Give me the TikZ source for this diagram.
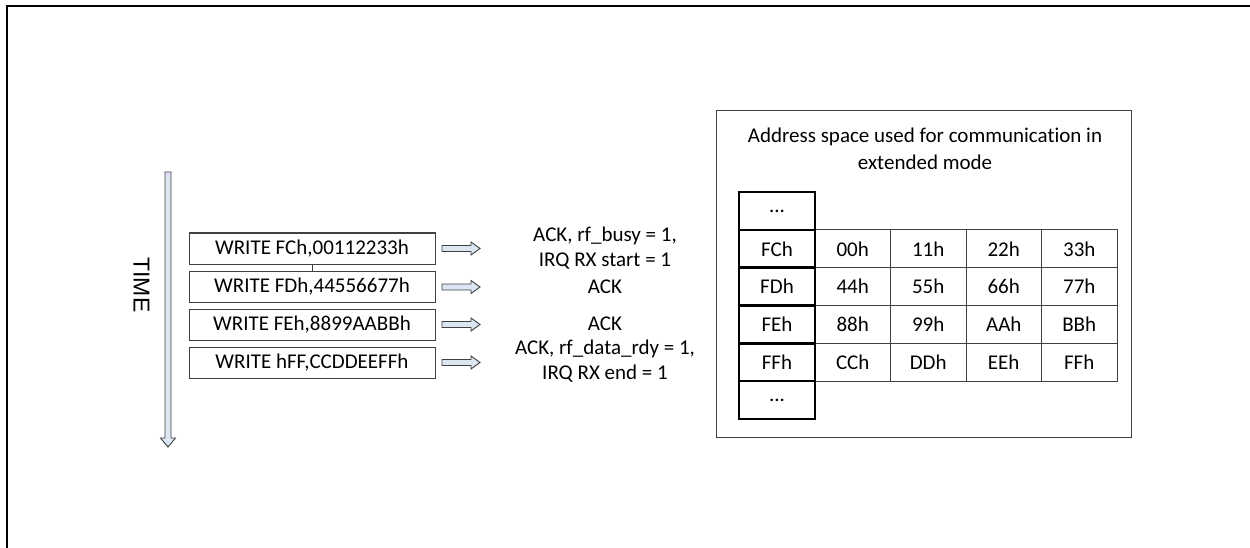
\documentclass[tikz,border=0pt]{standalone}
\usepackage{fontspec}
\setmainfont[Ligatures=NoCommon]{Carlito}
\newfontfamily\arialfont{Liberation Sans}
\usetikzlibrary{calc}
\definecolor{arrowfill}{HTML}{DCE6F2}
\definecolor{linegray}{HTML}{404040}
\begin{document}
\begin{tikzpicture}[x=1pt,y=-1pt,
  txt/.style={font=\fontsize{21}{25}\selectfont, inner sep=0pt},
  writebox/.style={draw=linegray, line width=1pt, minimum width=246pt, minimum height=31pt, inner sep=0pt, outer sep=0pt, font=\fontsize{21}{25}\selectfont},
  barrow/.style={draw=linegray, line width=0.9pt, fill=arrowfill, line join=miter},
  datacell/.style={draw=linegray, line width=1pt, minimum width=75.5pt, minimum height=37.8pt, inner sep=0pt, outer sep=0pt, font=\fontsize{21}{25}\selectfont},
  addrcell/.style={draw=black, line width=2.6pt, minimum width=76pt, minimum height=37.8pt, inner sep=0pt, outer sep=0pt, font=\fontsize{21}{25}\selectfont},
  frame/.style={draw=black, line width=2.4pt}
]
\useasboundingbox (0,0) rectangle (1250,548);
\fill[white] (0,0) rectangle (1250,548);
\draw[frame] (7,549) -- (7,6) -- (1251,6);

% time arrow
\coordinate (ttop) at (168,172);
\draw[barrow] (ttop) ++(-3,0) -- ++(0,266) -- ++(-4.5,0) -- ++(7.5,9) -- ++(7.5,-9) -- ++(-4.5,0) -- ++(0,-266) -- cycle;
\node[font=\arialfont\fontsize{23}{26}\selectfont, rotate=-90, inner sep=0pt] (time) at (141.5,285) {TIME};

% write boxes
\node[writebox] (w1) at (312,248.5) {WRITE FCh,00112233h};
\node[writebox] (w2) at (312,287) {WRITE FDh,44556677h};
\node[writebox] (w3) at (312,324.5) {WRITE FEh,8899AABBh};
\node[writebox] (w4) at (312,362.5) {WRITE hFF,CCDDEEFFh};
\draw[linegray, line width=1pt] (w1.south) -- (w2.north);

% block arrows
\foreach \w in {w1,w2,w3,w4}{
  \draw[barrow] ($(\w.east)+(7,-3)$) -- ++(29,0) -- ++(0,-3.5) -- ++(9,6.5) -- ++(-9,6.5) -- ++(0,-3.5) -- ++(-29,0) -- cycle;
}

% responses
\node[txt, align=center] (r1) at (605,248) {ACK, rf\_busy = 1,\\IRQ RX start = 1};
\node[txt] (r2) at (605,287) {ACK};
\node[txt] (r3) at (605,324) {ACK};
\node[txt, align=center] (r4) at (605,361.5) {ACK, rf\_data\_rdy = 1,\\IRQ RX end = 1};

% address space box
\draw[linegray, line width=1pt] (716,111) rectangle (1131,437);
\node[font=\fontsize{21}{27}\selectfont, align=center, inner sep=0pt] (title) at (925,148.5) {Address space used for communication in\\extended mode};

% data cells
\foreach \r/\a/\b/\c/\d [count=\i] in {248.8/00h/11h/22h/33h, 286.6/44h/55h/66h/77h, 324.4/88h/99h/AAh/BBh, 362.2/CCh/DDh/EEh/FFh}{
  \node[datacell] (d\i a) at (852.75,\r) {\a};
  \node[datacell] (d\i b) at (928.25,\r) {\b};
  \node[datacell] (d\i c) at (1003.75,\r) {\c};
  \node[datacell] (d\i d) at (1079.25,\r) {\d};
}
% address cells
\node[addrcell] (a0) at (777,211) {...};
\node[addrcell] (a1) at (777,248.8) {FCh};
\node[addrcell] (a2) at (777,286.6) {FDh};
\node[addrcell] (a3) at (777,324.4) {FEh};
\node[addrcell] (a4) at (777,362.2) {FFh};
\node[addrcell] (a5) at (777,400) {...};
\end{tikzpicture}
\end{document}
